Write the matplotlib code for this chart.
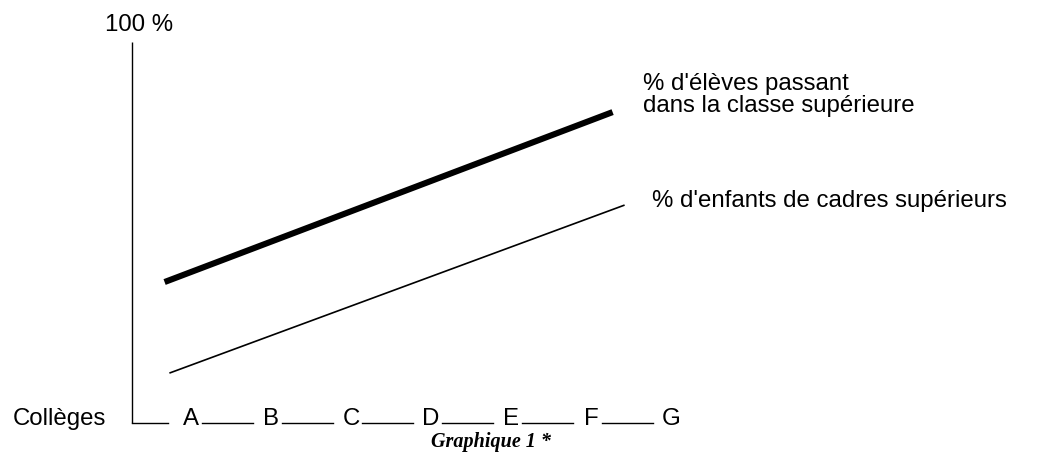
import matplotlib
matplotlib.use("Agg")
import matplotlib.pyplot as plt

# ---- data ----
colleges = ["A", "B", "C", "D", "E", "F", "G"]
# straight trend lines (college index, percent)
passage_x = [-0.33, 5.27]
passage_y = [37.0, 81.6]
cadres_x = [-0.27, 5.42]
cadres_y = [13.1, 57.2]
label_passage = "% d'élèves passant\ndans la classe supérieure"
label_cadres = "% d'enfants de cadres supérieurs"
y_top_label = "100 %"
x_label = "Collèges"
caption = "Graphique 1 *"

W, H, DPI = 1052, 457, 100
fig = plt.figure(figsize=(W / DPI, H / DPI), dpi=DPI)
fig.patch.set_facecolor("white")
ax = fig.add_axes([0, 0, 1, 1])

# pixel -> data mapping: x_px = 191 + 80*idx ; y_px = 423 - 3.81*pct
def px2x(px):
    return (px - 191) / 80.0

def py2y(py):
    return (423 - py) / 3.81

ax.set_xlim(px2x(0), px2x(W))
ax.set_ylim(py2y(H), py2y(0))
ax.axis("off")

sans = "Liberation Sans"
fs = 17.3

# vertical axis
x_axis = px2x(132)
ax.plot([x_axis, x_axis], [0, 100], color="black", lw=1.0, solid_capstyle="butt")

# horizontal axis made of dashes between college letters
ax.plot([x_axis, px2x(168)], [0, 0], color="black", lw=1.0)
for i, c in enumerate(colleges):
    ax.text(i, -0.6, c, ha="center", va="baseline", fontsize=fs, family=sans)
    if i < len(colleges) - 1:
        ax.plot([i + 0.14, i + 0.78], [0, 0], color="black", lw=1.0)

# lines
ax.plot(passage_x, passage_y, color="black", lw=4.4, solid_capstyle="butt")
ax.plot(cadres_x, cadres_y, color="black", lw=1.2, solid_capstyle="butt")

# texts
def ftext(px, py, s, **kw):
    fig.text(px / W, 1 - py / H, s, **kw)

ftext(105, 25, y_top_label, ha="left", va="center", fontsize=fs, family=sans)
ftext(13, 425, x_label, ha="left", va="baseline", fontsize=fs, family=sans)
ftext(643, 95, label_passage, ha="left", va="center", fontsize=fs,
      family=sans, linespacing=1.0)
ftext(652, 201, label_cadres, ha="left", va="center", fontsize=fs, family=sans)
ftext(491, 442, caption, ha="center", va="center", fontsize=14.5,
      family="Liberation Serif", style="italic", weight="bold")

fig.savefig("out.png", dpi=DPI, facecolor="white")
